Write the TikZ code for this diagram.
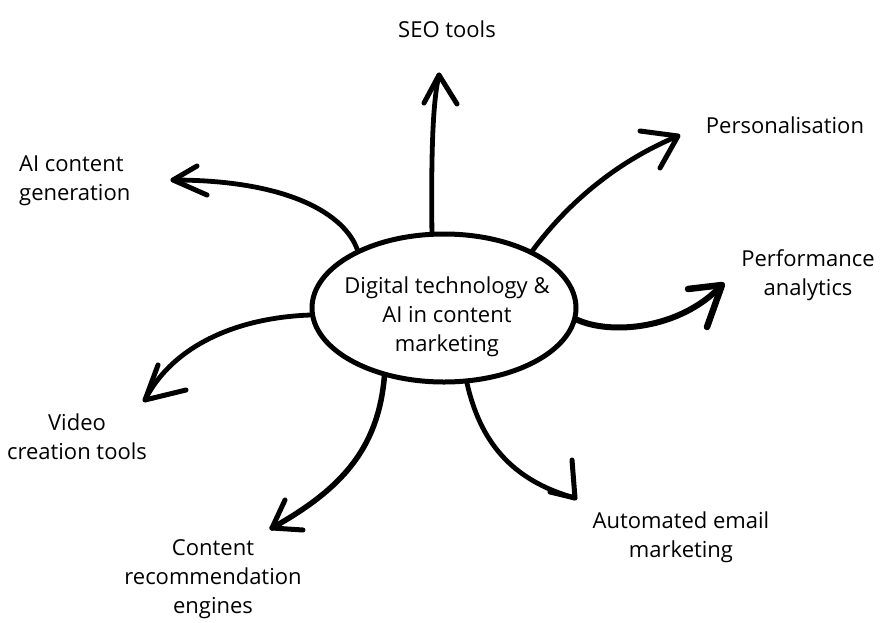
\documentclass[tikz,border=0pt]{standalone}
\usepackage{fontspec}
\setmainfont{Open Sans}
\usetikzlibrary{shapes.geometric}
\begin{document}
\begin{tikzpicture}[x=1pt,y=-1pt,
  conn/.style={line width=4.8pt,line cap=round,line join=round},
  barb/.style={line width=5pt,line cap=round,line join=round},
  lbl/.style={font=\fontsize{22}{29}\selectfont,align=center,inner sep=0pt}]
\useasboundingbox[fill=white] (0,0) rectangle (887,622);
\node[ellipse,draw,line width=5pt,minimum width=264pt,minimum height=148pt,inner sep=0pt] (c) at (444,308) {};
\node[lbl] (ct) at (447,317) {Digital technology \&\\AI in content\\marketing};
% tips
\coordinate (t1) at (439,75);
\coordinate (t2) at (678,136);
\coordinate (t3) at (173,180);
\coordinate (t4) at (722,285);
\coordinate (t5) at (145,400);
\coordinate (t6) at (272,528);
\coordinate (t7) at (575,498);
% connectors
\draw[conn] (c.99) .. controls (431,150) and (433,100) .. (t1);
\draw[barb] (424,103) -- (t1) -- (457,104);
\draw[conn] (c.33) .. controls (570,200) and (620,160) .. (t2);
\draw[barb] (640,131) -- (t2) -- (660,168);
\draw[conn] (c.146) .. controls (345,215) and (290,180) .. (t3);
\draw[barb] (197,166) -- (t3) -- (207,195);
\draw[conn,line width=6pt] (c.-5) .. controls (610,335) and (680,330) .. (t4);
\draw[barb,line width=6.5pt] (688,289) -- (t4) -- (707,327);
\draw[conn] (c.183) .. controls (230,318) and (170,350) .. (t5);
\draw[barb] (158,365) -- (t5) -- (186,390);
\draw[conn,line width=5.5pt] (c.-131) .. controls (378,450) and (340,490) .. (t6);
\draw[barb] (285,500) -- (t6) -- (303,530);
\draw[conn] (c.-73) .. controls (480,440) and (510,480) .. (t7);
\draw[barb] (572,460) -- (t7) -- (550,492);
% labels
\node[lbl] (l1) at (447,29) {SEO tools};
\node[lbl] (l2) at (785,125) {Personalisation};
\node[lbl,align=left,anchor=west] (l3) at (19,181) {AI content\\generation};
\node[lbl] (l4) at (808,275) {Performance\\analytics};
\node[lbl] (l5) at (77,437) {Video\\creation tools};
\node[lbl] (l6) at (213,579) {Content\\recommendation\\engines};
\node[lbl] (l7) at (681,537) {Automated email\\marketing};
\end{tikzpicture}
\end{document}
